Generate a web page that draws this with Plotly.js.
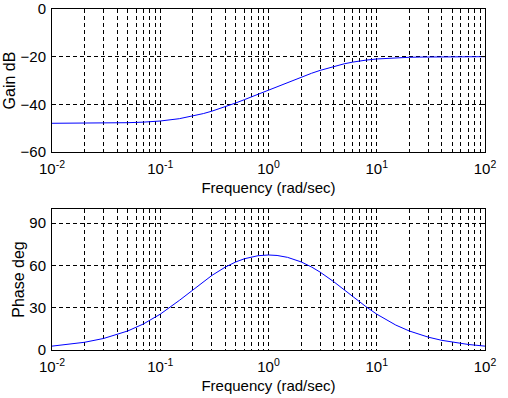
<!DOCTYPE html>
<html>
<head>
<meta charset="utf-8">
<script src="https://cdn.plot.ly/plotly-3.0.1.min.js"></script>
<style>html,body{margin:0;padding:0;background:#fff;}#plot{width:508px;height:398px;}</style>
</head>
<body>
<div id="plot"></div>
<script>
const freq = [0.01,0.015,0.02,0.03,0.04,0.05,0.07,0.1,0.15,0.2,0.25,0.3,0.4,0.5,0.6,0.7,0.8,1,1.2,1.5,2,2.5,3,4,5,6,7,8,10,12,15,20,25,30,40,50,70,100];
const gainDb = [-47.95,-47.94,-47.92,-47.86,-47.79,-47.70,-47.46,-46.99,-46.02,-44.96,-43.88,-42.86,-41.00,-39.40,-38.02,-36.82,-35.76,-33.98,-32.52,-30.75,-28.56,-26.96,-25.75,-24.08,-23.00,-22.28,-21.78,-21.43,-20.97,-20.70,-20.46,-20.26,-20.17,-20.12,-20.07,-20.04,-20.02,-20.01];
const phaseDeg = [2.75,4.12,5.48,8.19,10.85,13.47,18.49,25.42,35.15,42.71,48.48,52.88,58.86,62.49,64.73,66.08,66.87,67.38,67.04,65.71,62.49,58.86,55.23,48.48,42.71,37.90,33.90,30.58,25.42,21.67,17.67,13.47,10.85,9.08,6.84,5.48,3.93,2.75];
const decadeLabels = ['10<sup>-2</sup>','10<sup>-1</sup>','10<sup>0</sup>','10<sup>1</sup>','10<sup>2</sup>'];
const gainTicks = [0,-20,-40,-60];
const phaseTicks = [0,30,60,90];

const tv = [], tt = [];
for (let d = -2; d <= 2; d++) {
  for (let m = 1; m <= 9; m++) {
    if (d === 2 && m > 1) break;
    tv.push(m * Math.pow(10, d));
    tt.push(m === 1 ? decadeLabels[d + 2] : '');
  }
}
const font = {family: 'Liberation Sans, Arial, sans-serif', size: 15, color: '#000'};
const gridDash = '4px,3px';
function xax(anchor) {
  return {
    type: 'log', range: [-2, 2], tickmode: 'array', tickvals: tv, ticktext: tt,
    showgrid: true, gridcolor: '#000', gridwidth: 1, griddash: gridDash,
    showline: true, linecolor: '#000', linewidth: 1, mirror: 'ticks',
    ticks: 'inside', ticklen: 0, tickfont: font, anchor: anchor,
    ticklabelstandoff: 3,
    zeroline: false,
    title: {text: 'Frequency (rad/sec)', font: font, standoff: 6}
  };
}
function yax(anchor, domain, range, ticks, title) {
  return {
    domain: domain, range: range, tickmode: 'array', tickvals: ticks,
    showgrid: true, gridcolor: '#000', gridwidth: 1, griddash: gridDash,
    showline: true, linecolor: '#000', linewidth: 1, mirror: 'ticks',
    ticks: 'inside', ticklen: 4, tickcolor: '#000', tickfont: font, zeroline: false, anchor: anchor,
    ticklabelstandoff: 2,
    title: {text: title, font: {family: font.family, size: 16, color: '#000'}, standoff: 0}
  };
}
const data = [
  {x: freq, y: gainDb, type: 'scatter', mode: 'lines', line: {color: '#0000ff', width: 1}, xaxis: 'x', yaxis: 'y', hoverinfo: 'none'},
  {x: freq, y: phaseDeg, type: 'scatter', mode: 'lines', line: {color: '#0000ff', width: 1}, xaxis: 'x2', yaxis: 'y2', hoverinfo: 'none'}
];
const layout = {
  width: 508, height: 398,
  margin: {l: 52, r: 23, t: 9, b: 48},
  paper_bgcolor: '#fff', plot_bgcolor: '#fff',
  showlegend: false,
  font: font,
  xaxis: xax('y'),
  xaxis2: xax('y2'),
  yaxis: yax('x', [0.5806, 1], [-60, 0], gainTicks, 'Gain dB'),
  yaxis2: yax('x2', [0, 0.4135], [0, 100], phaseTicks, 'Phase deg')
};
Plotly.newPlot('plot', data, layout, {staticPlot: true, displayModeBar: false});
</script>
</body>
</html>
